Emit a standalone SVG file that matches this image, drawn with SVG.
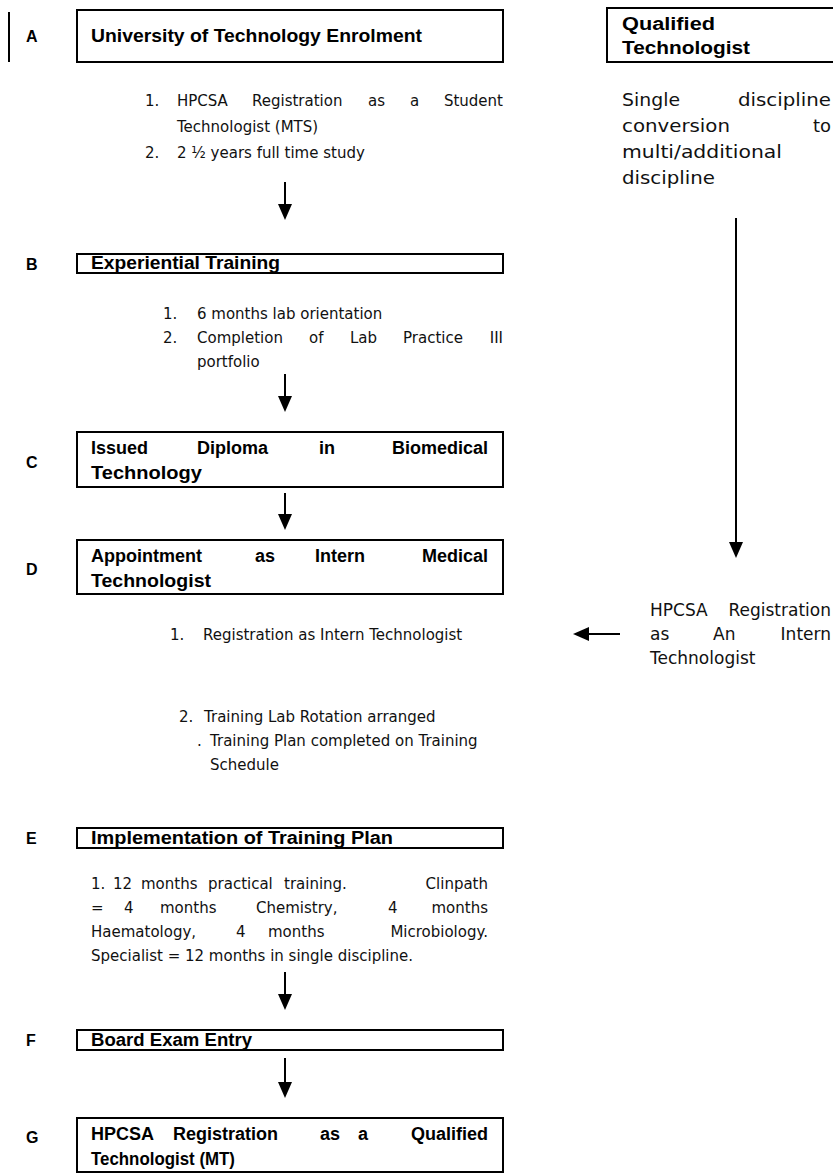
<svg xmlns="http://www.w3.org/2000/svg" width="833" height="1175" viewBox="0 0 833 1175">
<defs>
<marker id="ah" viewBox="0 0 16 14" refX="8" refY="7" markerWidth="16" markerHeight="14" markerUnits="userSpaceOnUse" orient="auto">
<path d="M0,0 L16,7 L0,14 Z" fill="#000"/>
</marker>
<style>
.box{fill:none;stroke:#000;stroke-width:2}
.lbl{font-family:"Liberation Sans",Arial,sans-serif;font-weight:bold;font-size:16px;fill:#000}
.ttl{font-family:"Liberation Sans",Arial,sans-serif;font-weight:bold;font-size:18px;fill:#000}
.txt{font-family:"DejaVu Sans","Liberation Sans",sans-serif;font-size:15px;fill:#111}
.rt{font-family:"DejaVu Sans","Liberation Sans",sans-serif;font-size:17px;fill:#111}
.con{stroke:#000;stroke-width:2;fill:none}
</style>
</defs>
<rect width="833" height="1175" fill="#fff"/>
<line x1="9" y1="12" x2="9" y2="62" stroke="#000" stroke-width="2"/>

<g id="nodeA">
<text class="lbl" x="26" y="42">A</text>
<rect class="box" x="77" y="10" width="426" height="52"/>
<text class="ttl" x="91" y="42" textLength="331" lengthAdjust="spacingAndGlyphs">University of Technology Enrolment</text>
</g>
<g id="listA">
<text class="txt" x="145" y="106">1.</text>
<text class="txt" y="106"><tspan x="177">HPCSA</tspan><tspan x="252">Registration</tspan><tspan x="368">as</tspan><tspan x="410">a</tspan><tspan x="503" text-anchor="end">Student</tspan></text>
<text class="txt" x="177" y="132">Technologist (MTS)</text>
<text class="txt" x="145" y="158">2.</text>
<text class="txt" x="177" y="158">2 ½ years full time study</text>
</g>

<g id="nodeQT">
<rect class="box" x="607" y="8" width="240" height="54"/>
<text class="ttl" x="622" y="30" textLength="93" lengthAdjust="spacingAndGlyphs">Qualified</text>
<text class="ttl" x="622" y="54" textLength="128" lengthAdjust="spacingAndGlyphs">Technologist</text>
</g>
<g id="noteQT">
<text class="rt" x="622" y="106" textLength="58" lengthAdjust="spacingAndGlyphs">Single</text>
<text class="rt" x="738" y="106" textLength="93" lengthAdjust="spacingAndGlyphs">discipline</text>
<text class="rt" x="622" y="132" textLength="108" lengthAdjust="spacingAndGlyphs">conversion</text>
<text class="rt" x="813" y="132" textLength="18" lengthAdjust="spacingAndGlyphs">to</text>
<text class="rt" x="622" y="158" textLength="160" lengthAdjust="spacingAndGlyphs">multi/additional</text>
<text class="rt" x="622" y="184" textLength="93" lengthAdjust="spacingAndGlyphs">discipline</text>
</g>

<g id="nodeB">
<text class="lbl" x="26" y="270">B</text>
<rect class="box" x="77" y="254" width="426" height="19"/>
<text class="ttl" x="91" y="269" textLength="189" lengthAdjust="spacingAndGlyphs">Experiential Training</text>
</g>
<g id="listB">
<text class="txt" x="163" y="319">1.</text>
<text class="txt" x="197" y="319">6 months lab orientation</text>
<text class="txt" x="163" y="343">2.</text>
<text class="txt" y="343"><tspan x="197">Completion</tspan><tspan x="309">of</tspan><tspan x="350">Lab</tspan><tspan x="403">Practice</tspan><tspan x="503" text-anchor="end">III</tspan></text>
<text class="txt" x="197" y="367">portfolio</text>
</g>

<g id="nodeC">
<text class="lbl" x="26" y="468">C</text>
<rect class="box" x="77" y="432" width="426" height="55"/>
<text class="ttl" y="454"><tspan x="91">Issued</tspan><tspan x="197">Diploma</tspan><tspan x="319">in</tspan><tspan x="488" text-anchor="end">Biomedical</tspan></text>
<text class="ttl" x="91" y="479" textLength="111" lengthAdjust="spacingAndGlyphs">Technology</text>
</g>

<g id="nodeD">
<text class="lbl" x="26" y="575">D</text>
<rect class="box" x="77" y="540" width="426" height="54"/>
<text class="ttl" y="562"><tspan x="91">Appointment</tspan><tspan x="255">as</tspan><tspan x="315">Intern</tspan><tspan x="488" text-anchor="end">Medical</tspan></text>
<text class="ttl" x="91" y="587" textLength="120" lengthAdjust="spacingAndGlyphs">Technologist</text>
</g>
<g id="listD">
<text class="txt" x="170" y="640">1.</text>
<text class="txt" x="203" y="640">Registration as Intern Technologist</text>
<text class="txt" x="179" y="722">2.</text>
<text class="txt" x="204" y="722">Training Lab Rotation arranged</text>
<text class="txt" x="197" y="746">.</text>
<text class="txt" x="210" y="746">Training Plan completed on Training</text>
<text class="txt" x="210" y="770">Schedule</text>
</g>
<g id="noteD">
<text class="rt" y="616"><tspan x="650">HPCSA</tspan><tspan x="831" text-anchor="end">Registration</tspan></text>
<text class="rt" y="640"><tspan x="650">as</tspan><tspan x="713">An</tspan><tspan x="831" text-anchor="end">Intern</tspan></text>
<text class="rt" x="650" y="664">Technologist</text>
</g>

<g id="nodeE">
<text class="lbl" x="26" y="844">E</text>
<rect class="box" x="77" y="828" width="426" height="20"/>
<text class="ttl" x="91" y="844" textLength="302" lengthAdjust="spacingAndGlyphs">Implementation of Training Plan</text>
</g>
<g id="listE">
<text class="txt" y="889"><tspan x="91">1.</tspan><tspan x="113">12</tspan><tspan x="141">months</tspan><tspan x="208">practical</tspan><tspan x="284">training.</tspan><tspan x="488" text-anchor="end">Clinpath</tspan></text>
<text class="txt" y="913"><tspan x="91">=</tspan><tspan x="124">4</tspan><tspan x="160">months</tspan><tspan x="256">Chemistry,</tspan><tspan x="388">4</tspan><tspan x="488" text-anchor="end">months</tspan></text>
<text class="txt" y="937"><tspan x="91">Haematology,</tspan><tspan x="236">4</tspan><tspan x="268">months</tspan><tspan x="488" text-anchor="end">Microbiology.</tspan></text>
<text class="txt" x="91" y="961">Specialist = 12 months in single discipline.</text>
</g>

<g id="nodeF">
<text class="lbl" x="26" y="1046">F</text>
<rect class="box" x="77" y="1030" width="426" height="20"/>
<text class="ttl" x="91" y="1046" textLength="161" lengthAdjust="spacingAndGlyphs">Board Exam Entry</text>
</g>

<g id="nodeG">
<text class="lbl" x="26" y="1143">G</text>
<rect class="box" x="77" y="1118" width="426" height="54"/>
<text class="ttl" y="1140"><tspan x="91">HPCSA</tspan><tspan x="173">Registration</tspan><tspan x="320">as</tspan><tspan x="358">a</tspan><tspan x="488" text-anchor="end">Qualified</tspan></text>
<text class="ttl" x="91" y="1165" textLength="144" lengthAdjust="spacingAndGlyphs">Technologist (MT)</text>
</g>

<g id="connectors">
<line class="con" x1="285" y1="182" x2="285" y2="212" marker-end="url(#ah)"/>
<line class="con" x1="285" y1="374" x2="285" y2="404" marker-end="url(#ah)"/>
<line class="con" x1="285" y1="493" x2="285" y2="522" marker-end="url(#ah)"/>
<line class="con" x1="285" y1="972" x2="285" y2="1002" marker-end="url(#ah)"/>
<line class="con" x1="285" y1="1058" x2="285" y2="1090" marker-end="url(#ah)"/>
<line class="con" x1="736" y1="218" x2="736" y2="550" marker-end="url(#ah)"/>
<line class="con" x1="620" y1="634" x2="581" y2="634" marker-end="url(#ah)"/>
</g>
</svg>
